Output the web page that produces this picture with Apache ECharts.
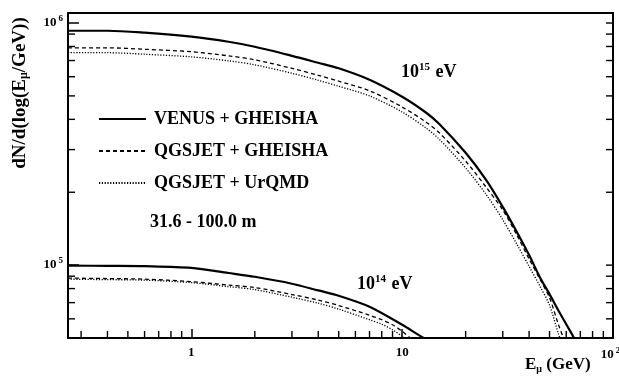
<!DOCTYPE html>
<html>
<head>
<meta charset="utf-8">
<script src="https://cdn.jsdelivr.net/npm/echarts@6/dist/echarts.min.js"></script>
<style>
  html, body { margin: 0; padding: 0; background: #fff; }
  #chart { width: 619px; height: 376px; }
</style>
</head>
<body>
<div id="chart"></div>
<script>
// Muon energy spectra, 31.6 - 100.0 m, for 10^14 and 10^15 eV showers
const modelNames = ['VENUS + GHEISHA', 'QGSJET + GHEISHA', 'QGSJET + UrQMD'];

// 10^15 eV primaries
const energyVenus15 = [0.26, 0.4, 0.6, 1, 1.5, 2, 3, 4, 5, 7, 10, 13, 15, 20, 25, 30, 35, 40, 45, 50, 55, 60, 65, 68];
const countVenus15  = [9.29e5, 9.29e5, 9.12e5, 8.78e5, 8.37e5, 7.98e5, 7.32e5, 6.85e5, 6.50e5, 5.83e5, 4.96e5, 4.26e5, 3.83e5, 2.91e5, 2.25e5, 1.74e5, 1.37e5, 1.10e5, 8.92e4, 7.59e4, 6.51e4, 5.70e4, 5.04e4, 4.6e4];
const energyQgsGh15 = [0.26, 0.4, 0.6, 1, 1.5, 2, 3, 4, 5, 7, 10, 13, 15, 20, 25, 30, 35, 40, 45, 50, 55, 58, 60];
const countQgsGh15  = [7.90e5, 7.90e5, 7.79e5, 7.61e5, 7.32e5, 7.05e5, 6.50e5, 6.08e5, 5.75e5, 5.25e5, 4.50e5, 3.89e5, 3.52e5, 2.69e5, 2.10e5, 1.69e5, 1.33e5, 1.06e5, 8.76e4, 7.33e4, 5.71e4, 5.04e4, 4.7e4];
const energyQgsUr15 = [0.26, 0.4, 0.6, 1, 1.5, 2, 3, 4, 5, 7, 10, 13, 15, 20, 25, 30, 35, 40, 45, 50, 55, 57];
const countQgsUr15  = [7.54e5, 7.54e5, 7.43e5, 7.25e5, 6.98e5, 6.72e5, 6.20e5, 5.80e5, 5.48e5, 5.00e5, 4.29e5, 3.68e5, 3.31e5, 2.52e5, 1.96e5, 1.54e5, 1.22e5, 9.88e4, 8.19e4, 6.83e4, 5.23e4, 4.8e4];

// 10^14 eV primaries
const energyVenus14 = [0.26, 0.4, 0.6, 1, 1.5, 2, 3, 4, 5, 7, 10, 12, 13];
const countVenus14  = [9.95e4, 9.93e4, 9.90e4, 9.74e4, 9.28e4, 8.95e4, 8.38e4, 7.86e4, 7.47e4, 6.73e4, 5.67e4, 5.14e4, 4.94e4];
const energyQgsGh14 = [0.26, 0.4, 0.6, 1, 1.5, 2, 3, 4, 5, 7, 8, 9, 10, 11];
const countQgsGh14  = [8.84e4, 8.80e4, 8.75e4, 8.55e4, 8.27e4, 8.08e4, 7.56e4, 7.17e4, 6.81e4, 6.21e4, 5.95e4, 5.67e4, 5.33e4, 4.97e4];
const energyQgsUr14 = [0.26, 0.4, 0.6, 1, 1.5, 2, 3, 4, 5, 7, 8, 9, 10, 10.5];
const countQgsUr14  = [8.75e4, 8.71e4, 8.67e4, 8.47e4, 8.15e4, 7.92e4, 7.37e4, 6.96e4, 6.58e4, 5.95e4, 5.70e4, 5.41e4, 5.08e4, 4.93e4];

// Minor tick values (decade ticks come from the log axes themselves)
const xMinorTicks = [0.3, 0.4, 0.5, 0.6, 0.7, 0.8, 0.9, 2, 3, 4, 5, 6, 7, 8, 9, 20, 30, 40, 50, 60, 70, 80, 90];
const yMinorTicks = [6e4, 7e4, 8e4, 9e4, 2e5, 3e5, 4e5, 5e5, 6e5, 7e5, 8e5, 9e5];
const yDecades = [1e5, 1e6];

const INK = '#000';
const SERIF = '"Liberation Serif", "Times New Roman", serif';
const xRange = { min: 0.26, max: 100 };
const yRange = { min: 5e4, max: 1.1e6 };

function pairs(xs, ys) { return xs.map((x, i) => [x, ys[i]]); }
function isDecade(v) { const l = Math.log10(v); return Math.abs(l - Math.round(l)) < 1e-6; }

const styles = [
  { width: 2.2, type: 'solid' },
  { width: 1.3, type: [4, 3] },
  { width: 1.3, type: [1.2, 1.6] }
];

function lineSeries(name, styleIdx, xs, ys) {
  return {
    type: 'line', name: name, xAxisIndex: 0, yAxisIndex: 0,
    data: pairs(xs, ys), symbol: 'none', smooth: 0.3, clip: true,
    lineStyle: { color: INK, width: styles[styleIdx].width, type: styles[styleIdx].type },
    itemStyle: { color: INK }, z: 3
  };
}

// Short inward tick marks: thin rectangles placed on the axis scales
function tickMarks(data, size, offset) {
  return {
    type: 'scatter', xAxisIndex: 0, yAxisIndex: 0, silent: true, clip: false, z: 4,
    data: data, symbol: 'rect', symbolSize: size, symbolOffset: offset,
    itemStyle: { color: INK, opacity: 1 }, emphasis: { disabled: true }
  };
}

const supRich = {
  base: { fontFamily: SERIF, fontWeight: 'bold', fontSize: 13, color: INK },
  sup: { fontFamily: SERIF, fontWeight: 'bold', fontSize: 9, color: INK, padding: [0, 0, 8, 2] },
  supEnd: { fontFamily: SERIF, fontWeight: 'bold', fontSize: 9, color: INK, padding: [0, 5, 8, 2] }
};

const chart = echarts.init(document.getElementById('chart'), null, { renderer: 'canvas' });
chart.setOption({
  backgroundColor: '#fff',
  animation: false,
  grid: { left: 68, right: 6, top: 13, bottom: 38, containLabel: false, outerBoundsMode: 'none' },
  legend: {
    data: modelNames,
    orient: 'vertical', left: 98, top: 110, padding: 0,
    itemWidth: 47, itemHeight: 12, itemGap: 14,
    itemStyle: { opacity: 0, color: 'transparent', borderWidth: 0 },
    textStyle: { fontFamily: SERIF, fontWeight: 'bold', fontSize: 18, color: INK, padding: [0, 0, 0, 3] },
    selectedMode: false
  },
  xAxis: [
    {
      type: 'log', position: 'bottom', min: xRange.min, max: xRange.max,
      axisLine: { show: true, lineStyle: { color: INK, width: 2 } },
      axisTick: { show: true, inside: true, length: 9, lineStyle: { color: INK, width: 1.5 } },
      axisLabel: {
        show: true, margin: 8, showMinLabel: false, showMaxLabel: true, hideOverlap: false,
        formatter: v => !isDecade(v) ? '' : (v >= 100 ? '{base|10}{supEnd|2}' : '{base|' + Math.round(v) + '}'),
        rich: supRich
      },
      splitLine: { show: false }
    },
    {
      type: 'log', position: 'top', min: xRange.min, max: xRange.max,
      axisLine: { show: true, lineStyle: { color: INK, width: 2 } },
      axisTick: { show: false }, axisLabel: { show: false }, splitLine: { show: false }
    }
  ],
  yAxis: [
    {
      type: 'log', position: 'left', min: yRange.min, max: yRange.max,
      axisLine: { show: true, lineStyle: { color: INK, width: 2 } },
      axisTick: { show: true, inside: true, length: 11, lineStyle: { color: INK, width: 1.5 } },
      axisLabel: {
        show: true, margin: 5, showMinLabel: false, showMaxLabel: false, hideOverlap: false,
        formatter: v => isDecade(v) ? '{base|10}{sup|' + Math.round(Math.log10(v)) + '}' : '',
        rich: supRich
      },
      splitLine: { show: false }
    },
    {
      type: 'log', position: 'right', min: yRange.min, max: yRange.max,
      axisLine: { show: true, lineStyle: { color: INK, width: 2 } },
      axisTick: { show: false }, axisLabel: { show: false }, splitLine: { show: false }
    }
  ],
  series: [
    lineSeries(modelNames[0], 0, energyVenus15, countVenus15),
    lineSeries(modelNames[1], 1, energyQgsGh15, countQgsGh15),
    lineSeries(modelNames[2], 2, energyQgsUr15, countQgsUr15),
    lineSeries(modelNames[0], 0, energyVenus14, countVenus14),
    lineSeries(modelNames[1], 1, energyQgsGh14, countQgsGh14),
    lineSeries(modelNames[2], 2, energyQgsUr14, countQgsUr14),
    tickMarks(xMinorTicks.map(v => [v, yRange.min]), [1.4, 7], [0, -3.5]),
    tickMarks(yMinorTicks.map(v => [xRange.min, v]), [7, 1.4], [3.5, 0]),
    tickMarks(yMinorTicks.concat(yDecades).map(v => [xRange.max, v]), [7, 1.4], [-3.5, 0])
  ],
  graphic: [
    {
      type: 'text', x: 20, y: 93, rotation: Math.PI / 2,
      style: {
        text: '{t|dN/d(log(E}{s|μ}{t|/GeV))}',
        align: 'center', verticalAlign: 'middle',
        rich: {
          t: { fontFamily: SERIF, fontWeight: 'bold', fontSize: 19, fill: INK },
          s: { fontFamily: SERIF, fontWeight: 'bold', fontSize: 12, fill: INK, padding: [8, 0, 0, 0] }
        }
      }
    },
    {
      type: 'text', x: 525, y: 365,
      style: {
        text: '{t|E}{s|μ}{t| (GeV)}',
        align: 'left', verticalAlign: 'middle',
        rich: {
          t: { fontFamily: SERIF, fontWeight: 'bold', fontSize: 17, fill: INK },
          s: { fontFamily: SERIF, fontWeight: 'bold', fontSize: 10, fill: INK, padding: [8, 0, 0, 0] }
        }
      }
    },
    {
      type: 'text', x: 150, y: 222,
      style: { text: '31.6 - 100.0 m', fontFamily: SERIF, fontWeight: 'bold', fontSize: 18, fill: INK, verticalAlign: 'middle' }
    },
    {
      type: 'text', x: 401, y: 72,
      style: {
        text: '{t|10}{s|15}{t| eV}', verticalAlign: 'middle',
        rich: {
          t: { fontFamily: SERIF, fontWeight: 'bold', fontSize: 18, fill: INK },
          s: { fontFamily: SERIF, fontWeight: 'bold', fontSize: 11, fill: INK, padding: [0, 1, 9, 0] }
        }
      }
    },
    {
      type: 'text', x: 357, y: 284,
      style: {
        text: '{t|10}{s|14}{t| eV}', verticalAlign: 'middle',
        rich: {
          t: { fontFamily: SERIF, fontWeight: 'bold', fontSize: 18, fill: INK },
          s: { fontFamily: SERIF, fontWeight: 'bold', fontSize: 11, fill: INK, padding: [0, 1, 9, 0] }
        }
      }
    }
  ]
});
</script>
</body>
</html>
